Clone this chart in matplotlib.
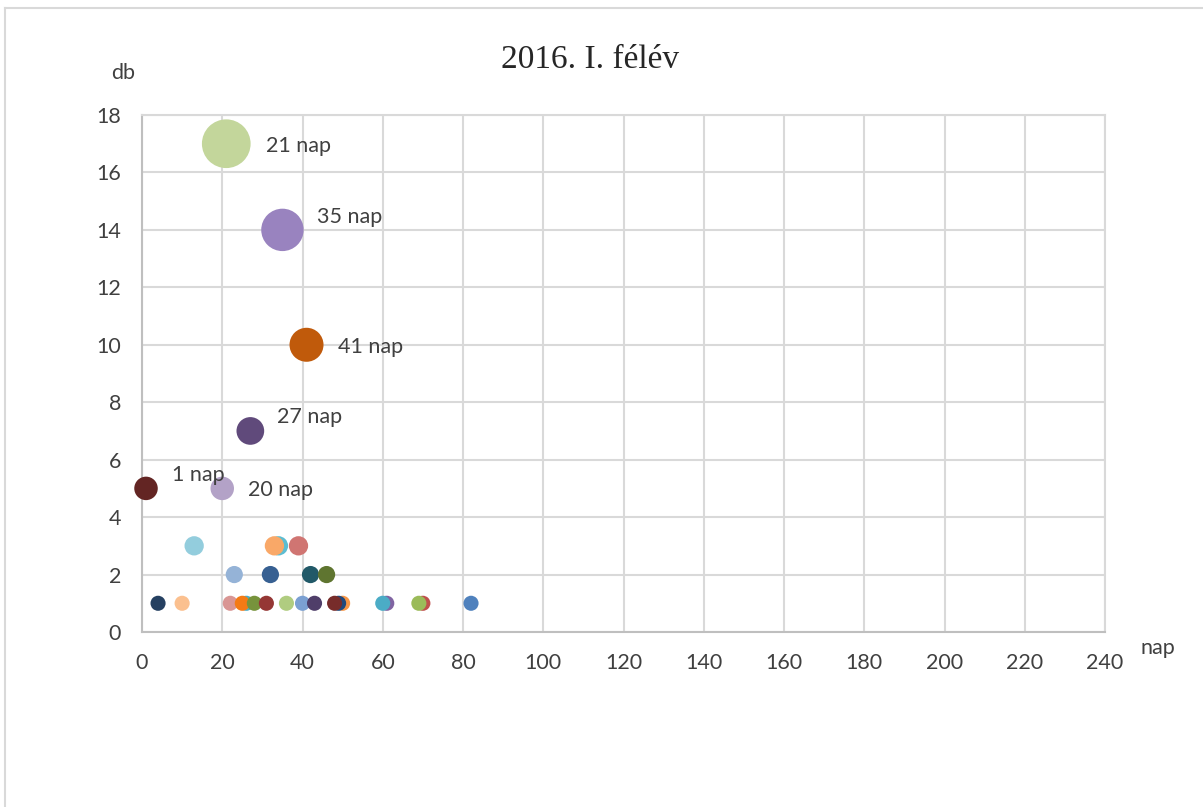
import matplotlib.pyplot as plt
from matplotlib.lines import Line2D

# napok szama (x) es darabszam (y)
nap = [21, 35, 41, 27, 1, 20,
       13, 34, 33, 39,
       23, 32, 42, 46,
       4, 10, 22, 26, 25, 28, 31, 36, 40, 43, 50, 49, 48, 61, 60, 70, 69, 82]
db = [17, 14, 10, 7, 5, 5,
      3, 3, 3, 3,
      2, 2, 2, 2,
      1, 1, 1, 1, 1, 1, 1, 1, 1, 1, 1, 1, 1, 1, 1, 1, 1, 1]
felirat = ['21 nap', '35 nap', '41 nap', '27 nap', '1 nap', '20 nap']

colors = ['#c3d69b', '#9983bf', '#c05a0b', '#604a7b', '#632523', '#b3a2c7',
          '#93cddd', '#5cbdd2', '#f9a868', '#d07572',
          '#95b3d7', '#376092', '#215968', '#5f7530',
          '#254061', '#fbc08f', '#d99694', '#4aacc6', '#f47a15', '#77933c',
          '#953735', '#b0cc80', '#7ba0d2', '#4f3e69', '#f79646', '#1f497d',
          '#772c2a', '#8064a2', '#4bacc6', '#c0504d', '#9bbb59', '#4f81bd']
# label offsets in pixels
offsets = [(40, -2), (35, 13), (31, -2), (27, 14), (26, 13), (26, -2)]

plt.rcParams['font.family'] = ['Lato', 'DejaVu Sans']

fig = plt.figure(figsize=(12.03, 8.07), dpi=100)
ax = fig.add_axes([142/1203, 1-632/807, 963/1203, 517/807])

diam = [13 + 2.1*v for v in db]       # bubble diameter in px
sizes = [(d*72/100)**2 for d in diam]
for x, y, s, c in zip(nap, db, sizes, colors):
    ax.scatter(x, y, s=s, color=c, edgecolors='none', zorder=3, clip_on=False)

for i, t in enumerate(felirat):
    ax.annotate(t, (nap[i], db[i]), xytext=offsets[i], textcoords='offset pixels',
                ha='left', va='center', fontsize=15.5, color='#404040', zorder=4)

ax.set_xlim(0, 240)
ax.set_ylim(0, 18)
ax.set_xticks(range(0, 241, 20))
ax.set_yticks(range(0, 19, 2))
ax.grid(True, color='#d9d9d9', linewidth=1.5, zorder=0)
ax.set_axisbelow(True)
for side in ['top', 'right']:
    ax.spines[side].set_color('#d9d9d9')
    ax.spines[side].set_linewidth(1.5)
for side in ['left', 'bottom']:
    ax.spines[side].set_color('#bfbfbf')
    ax.spines[side].set_linewidth(1.5)
ax.tick_params(length=0, labelsize=15.5, colors='#404040', pad=15)

fig.text(590/1203, 1-60/807, '2016. I. félév', ha='center', va='center',
         fontsize=24, color='#262626', family=['Liberation Serif', 'DejaVu Serif'])
fig.text(123/1203, 1-73/807, 'db', ha='center', va='center', fontsize=15.5, color='#404040')
fig.text(1158/1203, 1-648/807, 'nap', ha='center', va='center', fontsize=15.5, color='#404040')

# chart frame
fig.add_artist(Line2D([5/1203, 1], [1-8/807, 1-8/807], color='#d9d9d9', linewidth=1.5))
fig.add_artist(Line2D([5/1203, 5/1203], [0, 1-8/807], color='#d9d9d9', linewidth=1.5))

fig.savefig('out.png', dpi=100)
